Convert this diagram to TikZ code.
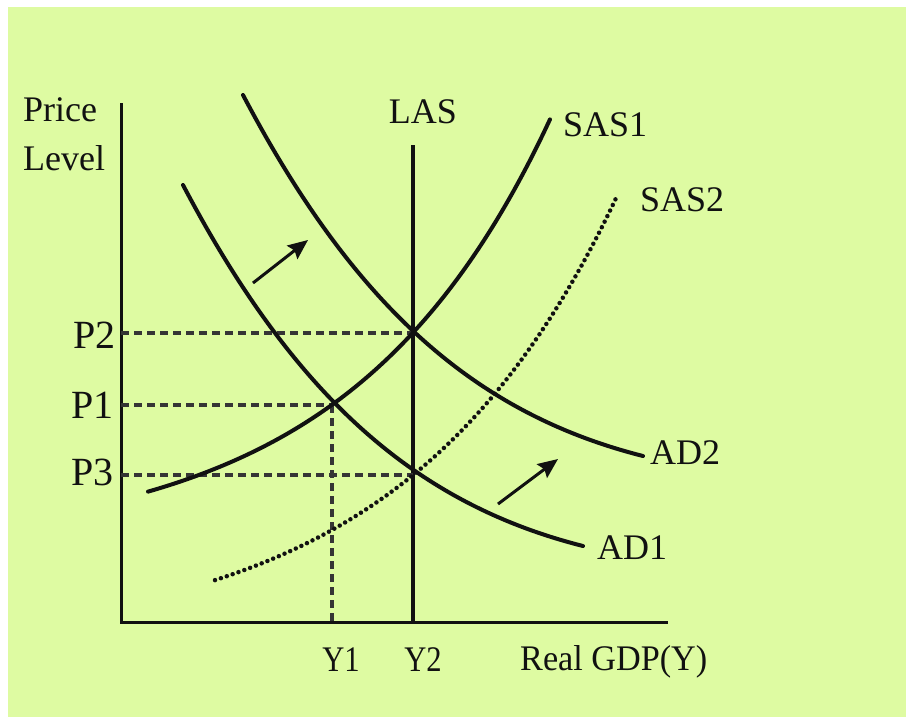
\documentclass[tikz,border=0pt]{standalone}
\usepackage{fontspec}
\setmainfont{Liberation Serif}
\usetikzlibrary{arrows.meta}
\definecolor{bgyel}{HTML}{DEFBA2}
\definecolor{ink}{HTML}{111111}
\begin{document}
\begin{tikzpicture}[x=1pt,y=-1pt,
  curve/.style={draw=ink,line width=4pt,line cap=round},
  axisline/.style={draw=ink,line width=3pt},
  guide/.style={draw=ink!85,line width=3.5pt,dash pattern=on 8pt off 5pt},
  dotcurve/.style={draw=ink,line width=4.5pt,line cap=round,dash pattern=on 0pt off 6.2pt},
  shiftarrow/.style={draw=ink,line width=3pt,-{Stealth[length=20pt,width=17pt,inset=3pt]}},
  lbl/.style={inner sep=0pt,text=ink,font=\fontsize{36}{40}\selectfont},
  plbl/.style={inner sep=0pt,text=ink,font=\fontsize{40}{44}\selectfont}]
\useasboundingbox (0,0) rectangle (906,716);
\fill[white] (-10,-10) rectangle (920,730);
\fill[bgyel] (8,7) rectangle (920,730);
% key points
\coordinate (O) at (121,622);
\coordinate (ytop) at (121,103);
\coordinate (xend) at (668,622);
\coordinate (lastop) at (413,145);
\coordinate (lasbot) at (413,622);
\coordinate (E1) at (332,405);
\coordinate (E2) at (413,333);
\coordinate (E3) at (413,475);
\coordinate (P2a) at (121,333);
\coordinate (P1a) at (121,405);
\coordinate (P3a) at (121,475);
\coordinate (Y1a) at (332,622);
% axes
\draw[axisline] (ytop) -- (O) -- (xend);
\draw[curve,line width=3.5pt,line cap=butt] (lastop) -- (lasbot);
% guides
\draw[guide] (P2a) -- (E2);
\draw[guide] (P1a) -- (E1);
\draw[guide] (P3a) -- (E3);
\draw[guide] (E1) -- (Y1a);
% SAS curves
\draw[curve] plot[domain=148:550,samples=80,smooth] (\x,{549.1-27.4*exp(0.005*\x)});
\draw[dotcurve] plot[domain=215:617,samples=80,smooth] (\x,{648.5-24.9*exp(0.0047*\x)});
% AD curves
\coordinate (ad1s) at (183,185);
\coordinate (ad1e) at (583,546);
\coordinate (ad2s) at (243,95);
\coordinate (ad2e) at (643,456);
\draw[curve] (ad1s) .. controls (293,394) and (413,503) .. (ad1e);
\draw[curve] (ad2s) .. controls (353,304) and (473,413) .. (ad2e);
% shift arrows
\coordinate (a1s) at (253,283);
\coordinate (a1e) at (308,240);
\coordinate (a2s) at (498,504);
\coordinate (a2e) at (558,459);
\draw[shiftarrow] (a1s) -- (a1e);
\draw[shiftarrow] (a2s) -- (a2e);
% labels
\node[lbl,anchor=west] (price) at (23,110) {Price};
\node[lbl,anchor=west] (level) at (23,158) {Level};
\node[lbl] (las) at (423,112) {LAS};
\node[lbl,anchor=west] (sas1) at (563,125) {SAS1};
\node[lbl,anchor=west] (sas2) at (640,200) {SAS2};
\node[lbl,anchor=west] (ad2) at (650,453) {AD2};
\node[lbl,anchor=west] (ad1) at (597,548) {AD1};
\node[plbl,anchor=east] (p2) at (116,335) {P2};
\node[plbl,anchor=east] (p1) at (114,405) {P1};
\node[plbl,anchor=east] (p3) at (114,472) {P3};
\node[lbl] (y1) at (341,660) {\scalebox{0.85}[1]{Y1}};
\node[lbl] (y2) at (423,660) {\scalebox{0.85}[1]{Y2}};
\node[lbl,anchor=west] (gdp) at (520,662) {\scalebox{0.95}[1]{Real GDP(Y)}};
\end{tikzpicture}
\end{document}
